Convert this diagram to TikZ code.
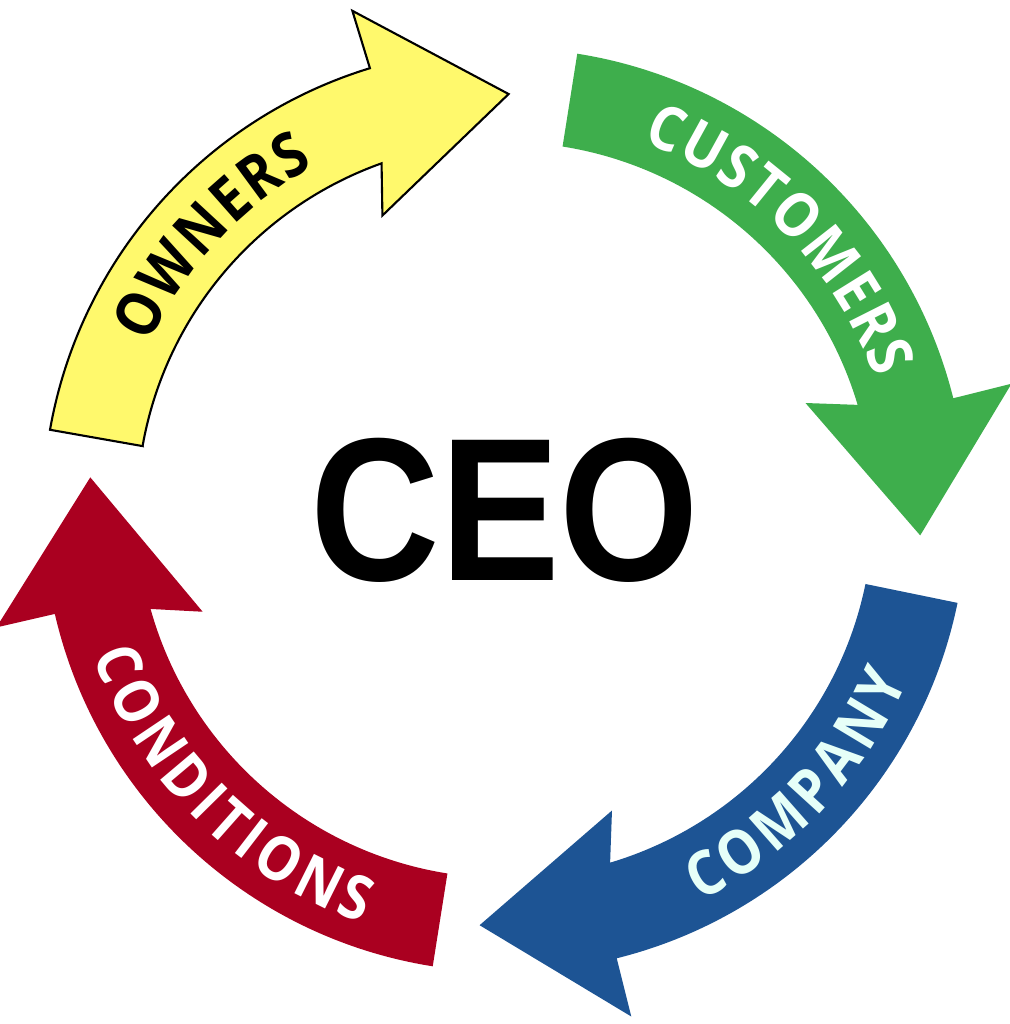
\documentclass[tikz,border=0pt]{standalone}
\usepackage{fontspec}
\usepackage{graphicx}
\setmainfont{Liberation Sans}
\newfontfamily\lblfont[FakeStretch=0.88]{Open Sans}
\usetikzlibrary{decorations.text}

\definecolor{ownersyellow}{RGB}{255,249,108}
\definecolor{customersgreen}{RGB}{62,174,76}
\definecolor{companyblue}{RGB}{29,84,148}
\definecolor{conditionsred}{RGB}{170,0,32}
\definecolor{companytext}{RGB}{230,255,248}

\newcommand{\arcfont}{\lblfont\bfseries\fontsize{17.5}{17.5}\selectfont}

\begin{document}
\begin{tikzpicture}[
        owners/.style={fill=ownersyellow, draw=black, line width=0.6pt, line join=miter},
        customers/.style={fill=customersgreen},
        company/.style={fill=companyblue},
        conditions/.style={fill=conditionsred},
        arctext/.style={decorate, decoration={text along path, text align=fit to path, text color=#1}}
    ]

    \useasboundingbox (-5.05,-5.14) rectangle (5.05,5.10);

    % Cycle arrows: tail angle / head base angle / style
    \foreach \tl/\hb/\col in {170/107/owners, 81/14/customers, -11.6/-76/company, 261/193/conditions} {
            \path[\col] (\tl:3.68) -- (\tl:4.62)
                arc[start angle=\tl, end angle=\hb, radius=4.62]
                -- (\hb:5.22) -- (\hb-17.5:4.16) -- (\hb+5.6:3.19) -- (\hb+2.6:3.68)
                arc[start angle=\hb+2.6, end angle=\tl, radius=3.68] -- cycle;
        }

    % Labels along the arrows
    \path[arctext=black, decoration={text={|\arcfont|OWNERS}}]
        (155:3.93) arc[start angle=155, end angle=119, radius=3.93];
    \path[arctext=white, decoration={text={|\arcfont|CUSTOMERS}}]
        (69.5:3.93) arc[start angle=69.5, end angle=19.5, radius=3.93];
    \path[arctext=companytext, decoration={text={|\arcfont|COMPANY}}]
        (-63.5:4.37) arc[start angle=-63.5, end angle=-23, radius=4.37];
    \path[arctext=white, decoration={text={|\arcfont|CONDITIONS}}]
        (199.5:4.37) arc[start angle=199.5, end angle=251, radius=4.37];

    % Centre title
    \node[font=\fontsize{58}{58}\selectfont\bfseries] (ceo) at (0,0) {\scalebox{0.88}[1]{CEO}};

\end{tikzpicture}
\end{document}
